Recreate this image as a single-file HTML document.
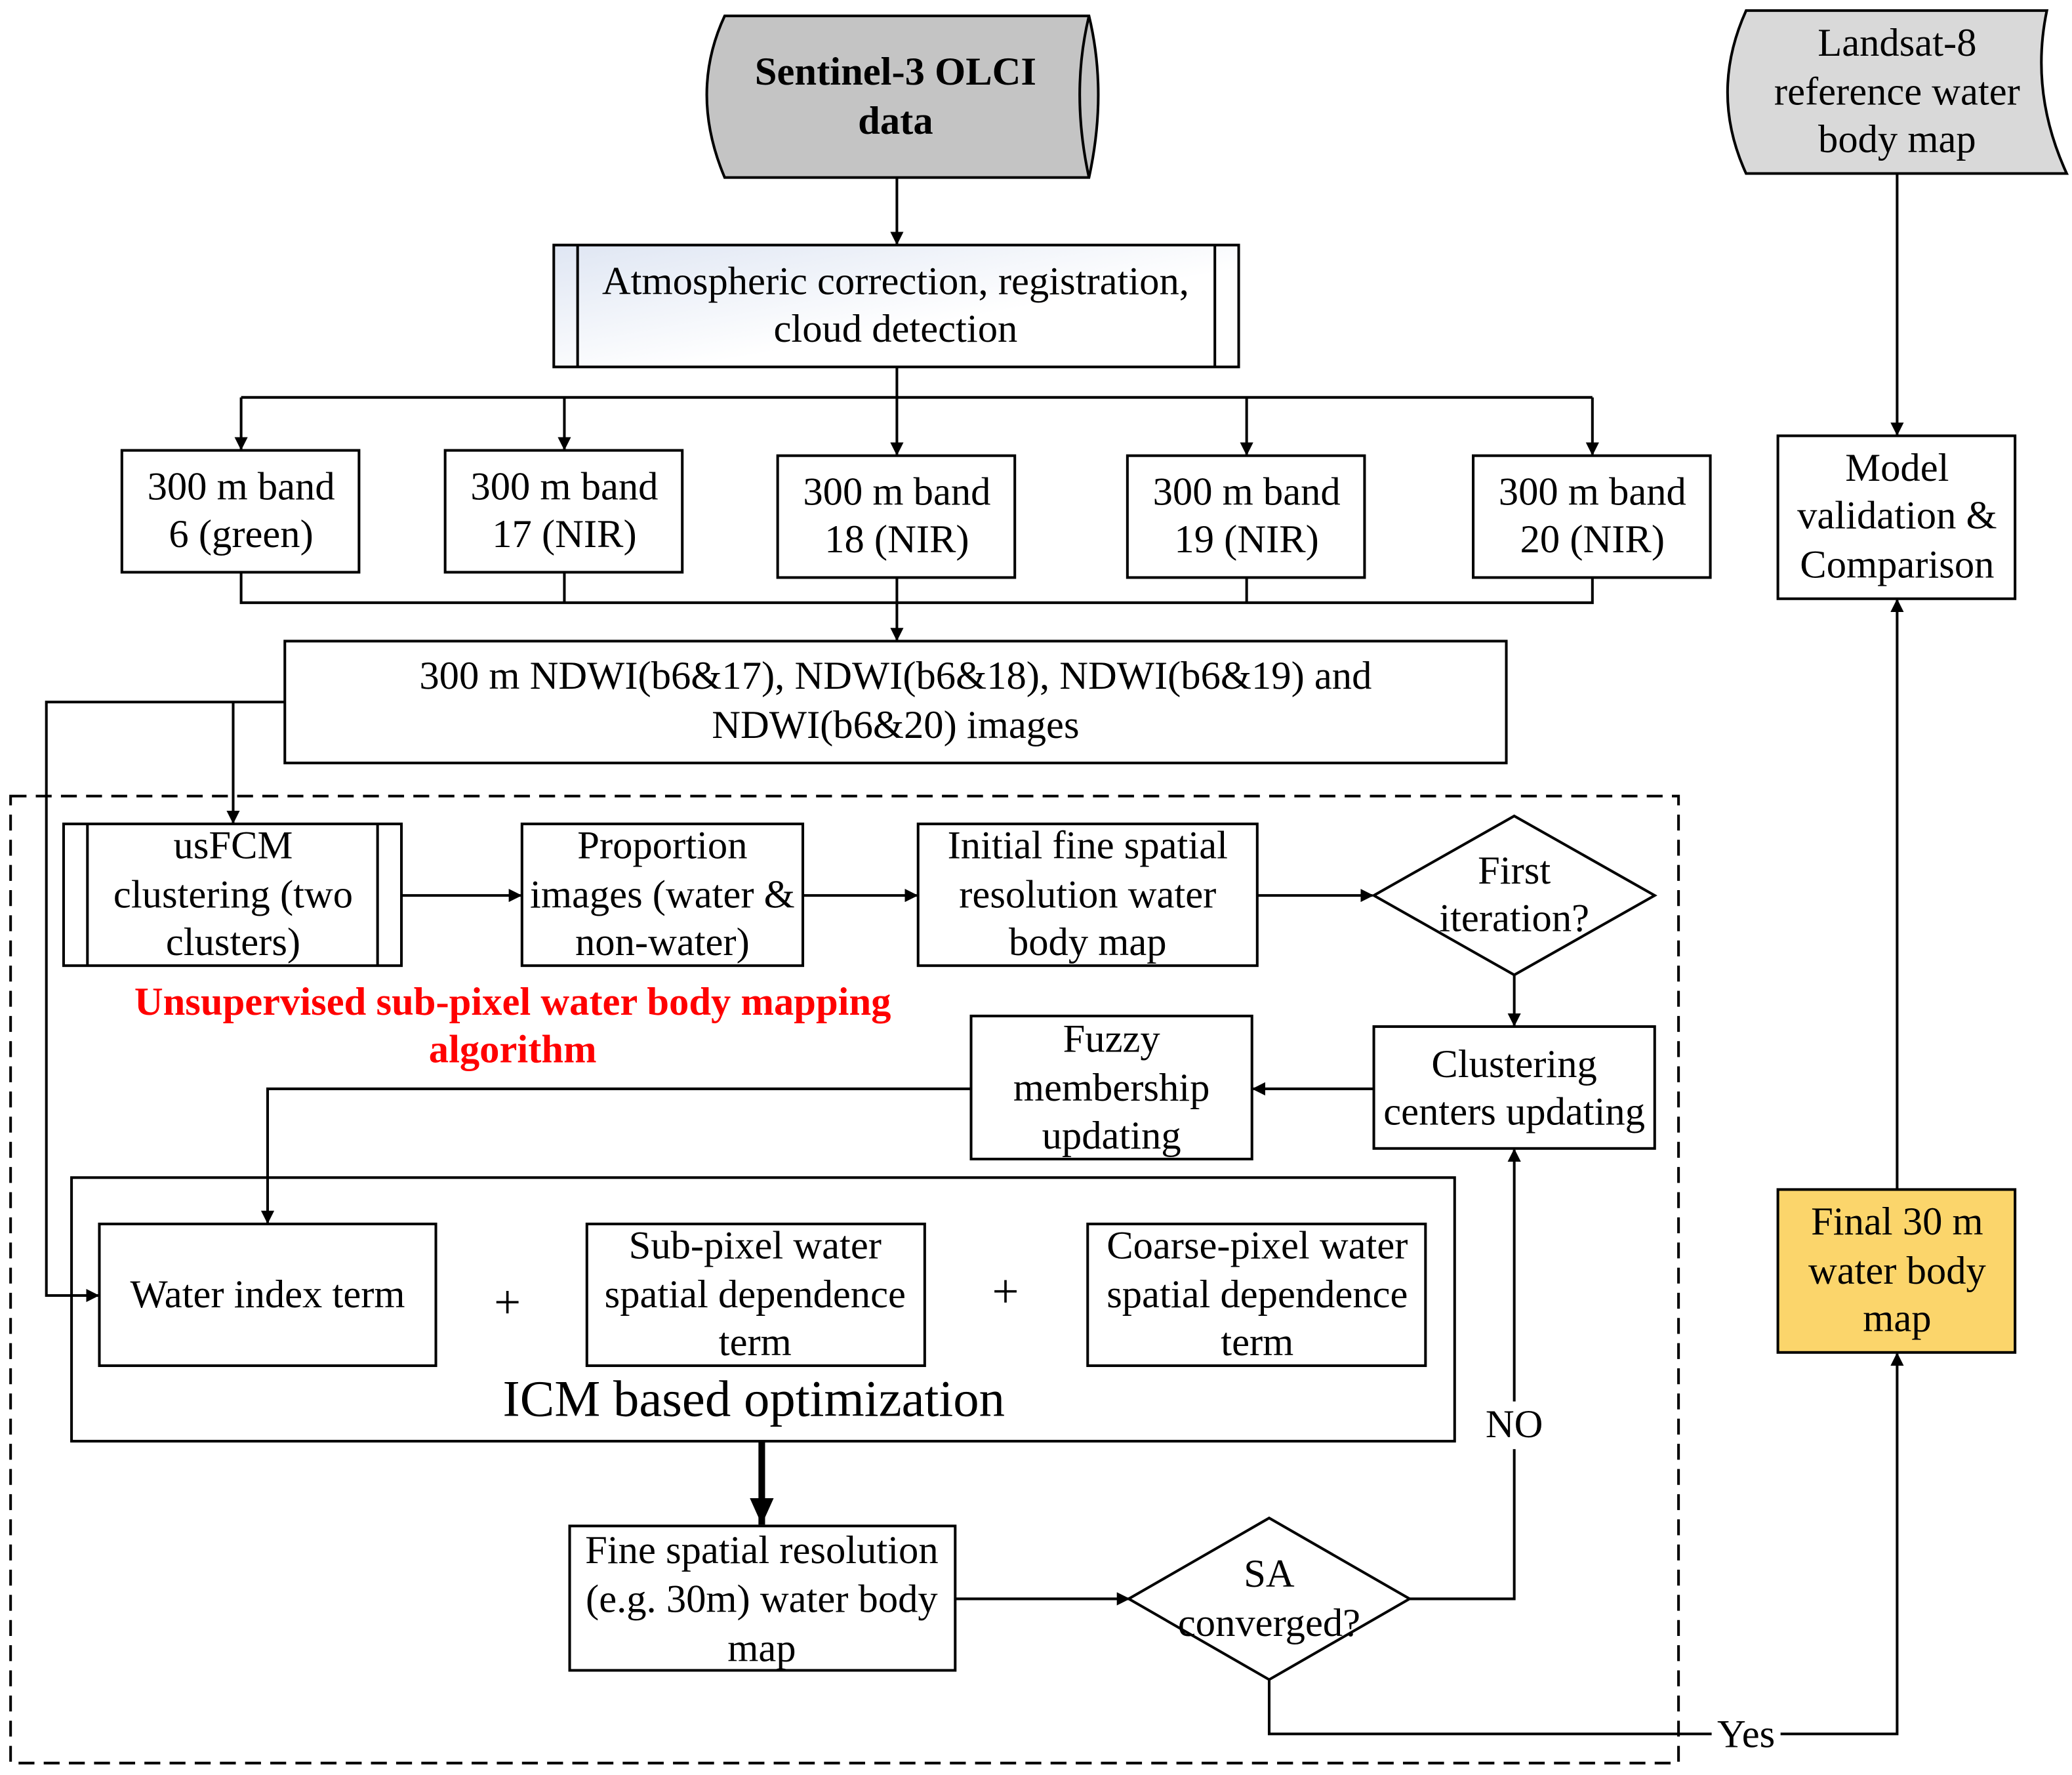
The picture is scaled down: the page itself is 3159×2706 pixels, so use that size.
<!DOCTYPE html>
<html><head><meta charset="utf-8"><style>
html,body{margin:0;padding:0;background:#fff;}
svg{display:block;}
text{font-family:"Liberation Serif",serif;fill:#000;}
</style></head><body>
<svg width="3159" height="2706" viewBox="0 0 1564 1340" preserveAspectRatio="none" xmlns="http://www.w3.org/2000/svg">
<defs>
<marker id="a" markerWidth="10" markerHeight="10" refX="9" refY="5" orient="auto" markerUnits="userSpaceOnUse"><path d="M0,0 L10,5 L0,10 z" fill="#000"/></marker>
<marker id="ab" markerWidth="22" markerHeight="22" refX="20" refY="11" orient="auto" markerUnits="userSpaceOnUse"><path d="M0,2 L20,11 L0,20 z" fill="#000"/></marker>
<linearGradient id="g" x1="0" y1="0" x2="1" y2="1"><stop offset="0" stop-color="#dfe6f3"/><stop offset="0.6" stop-color="#fff"/></linearGradient>
</defs>
<g stroke="#000" stroke-width="2" fill="none">
<path d="M547,12 L822,12 Q836,70 822,134 L547,134 Q520,70 547,12 z" fill="#c4c4c4"/>
<path d="M822,12 Q808,70 822,134"/>
<path d="M1318,8 L1545,8 Q1532,70 1560,131 L1318,131 Q1290,70 1318,8 z" fill="#d9d9d9"/>
<rect x="418" y="185" width="517" height="92" fill="url(#g)"/>
<line x1="436" y1="185" x2="436" y2="277"/><line x1="917" y1="185" x2="917" y2="277"/>
<line x1="677" y1="134" x2="677" y2="184" marker-end="url(#a)"/>
<line x1="677" y1="277" x2="677" y2="343" marker-end="url(#a)"/>
<line x1="182" y1="300" x2="1202" y2="300"/>
<line x1="182" y1="300" x2="182" y2="339" marker-end="url(#a)"/>
<line x1="426" y1="300" x2="426" y2="339" marker-end="url(#a)"/>
<line x1="941" y1="300" x2="941" y2="343" marker-end="url(#a)"/>
<line x1="1202" y1="300" x2="1202" y2="343" marker-end="url(#a)"/>
<rect x="92" y="340" width="179" height="92" fill="#fff"/>
<rect x="336" y="340" width="179" height="92" fill="#fff"/>
<rect x="587" y="344" width="179" height="92" fill="#fff"/>
<rect x="851" y="344" width="179" height="92" fill="#fff"/>
<rect x="1112" y="344" width="179" height="92" fill="#fff"/>
<polyline points="182,432 182,455 1202,455 1202,436"/>
<line x1="426" y1="432" x2="426" y2="455"/><line x1="941" y1="436" x2="941" y2="455"/>
<line x1="677" y1="436" x2="677" y2="483" marker-end="url(#a)"/>
<rect x="215" y="484" width="922" height="92" fill="#fff"/>
<rect x="54" y="889" width="1044" height="199"/>
<polyline points="215,530 35,530 35,978 74,978" marker-end="url(#a)"/>
<line x1="176" y1="530" x2="176" y2="621" marker-end="url(#a)"/>
<rect x="8" y="601" width="1259" height="730" stroke-dasharray="12,7"/>
<rect x="48" y="622" width="255" height="107" fill="#fff"/>
<line x1="66" y1="622" x2="66" y2="729"/><line x1="285" y1="622" x2="285" y2="729"/>
<line x1="303" y1="676" x2="393" y2="676" marker-end="url(#a)"/>
<rect x="394" y="622" width="212" height="107" fill="#fff"/>
<line x1="606" y1="676" x2="692" y2="676" marker-end="url(#a)"/>
<rect x="693" y="622" width="256" height="107" fill="#fff"/>
<line x1="949" y1="676" x2="1036" y2="676" marker-end="url(#a)"/>
<polygon points="1143,616 1249,676 1143,736 1037,676" fill="#fff"/>
<line x1="1143" y1="736" x2="1143" y2="774" marker-end="url(#a)"/>
<rect x="1037" y="775" width="212" height="92" fill="#fff"/>
<line x1="1037" y1="822" x2="946" y2="822" marker-end="url(#a)"/>
<rect x="733" y="767" width="212" height="108" fill="#fff"/>
<polyline points="733,822 202,822 202,923" marker-end="url(#a)"/>
<rect x="75" y="924" width="254" height="107" fill="#fff"/>
<rect x="443" y="924" width="255" height="107" fill="#fff"/>
<rect x="821" y="924" width="255" height="107" fill="#fff"/>
<line x1="575" y1="1088" x2="575" y2="1151" stroke-width="5" marker-end="url(#ab)"/>
<rect x="430" y="1152" width="291" height="109" fill="#fff"/>
<line x1="721" y1="1207" x2="852" y2="1207" marker-end="url(#a)"/>
<polygon points="958,1146 1064,1207 958,1268 852,1207" fill="#fff"/>
<polyline points="1064,1207 1143,1207 1143,868" marker-end="url(#a)"/>
<polyline points="958,1268 958,1309 1432,1309 1432,1022" marker-end="url(#a)"/>
<rect x="1342" y="898" width="179" height="123" fill="#fbd56b"/>
<line x1="1432" y1="898" x2="1432" y2="453" marker-end="url(#a)"/>
<rect x="1342" y="329" width="179" height="123" fill="#fff"/>
<line x1="1432" y1="131" x2="1432" y2="328" marker-end="url(#a)"/>
</g>
<rect x="1116" y="1058" width="54" height="36" fill="#fff"/>
<rect x="1292" y="1295" width="52" height="30" fill="#fff"/>
<g font-size="30" text-anchor="middle">
<text x="676" y="64" font-weight="bold">Sentinel-3 OLCI</text>
<text x="676" y="101" font-weight="bold">data</text>
<text x="1432" y="42">Landsat-8</text><text x="1432" y="79">reference water</text><text x="1432" y="115">body map</text>
<text x="676" y="222">Atmospheric correction, registration,</text><text x="676" y="258">cloud detection</text>
<text x="182" y="377">300 m band</text><text x="182" y="413">6 (green)</text>
<text x="426" y="377">300 m band</text><text x="426" y="413">17 (NIR)</text>
<text x="677" y="381">300 m band</text><text x="677" y="417">18 (NIR)</text>
<text x="941" y="381">300 m band</text><text x="941" y="417">19 (NIR)</text>
<text x="1202" y="381">300 m band</text><text x="1202" y="417">20 (NIR)</text>
<text x="1432" y="363">Model</text><text x="1432" y="399">validation &amp;</text><text x="1432" y="436">Comparison</text>
<text x="676" y="520">300 m NDWI(b6&amp;17), NDWI(b6&amp;18), NDWI(b6&amp;19) and</text>
<text x="676" y="557">NDWI(b6&amp;20)  images</text>
<text x="176" y="648">usFCM</text><text x="176" y="685">clustering (two</text><text x="176" y="721">clusters)</text>
<text x="500" y="648">Proportion</text><text x="500" y="685">images (water &amp;</text><text x="500" y="721">non-water)</text>
<text x="821" y="648">Initial fine spatial</text><text x="821" y="685">resolution water</text><text x="821" y="721">body map</text>
<text x="1143" y="667">First</text><text x="1143" y="703">iteration?</text>
<text x="1143" y="813">Clustering</text><text x="1143" y="849">centers updating</text>
<text x="839" y="794">Fuzzy</text><text x="839" y="831">membership</text><text x="839" y="867">updating</text>
<text x="387" y="766" font-weight="bold" style="fill:#ff0000">Unsupervised sub-pixel water body mapping</text>
<text x="387" y="802" font-weight="bold" style="fill:#ff0000">algorithm</text>
<text x="202" y="987">Water index term</text>
<text x="383" y="995" font-size="36">+</text>
<text x="570" y="950">Sub-pixel water</text><text x="570" y="987">spatial dependence</text><text x="570" y="1023">term</text>
<text x="759" y="987" font-size="36">+</text>
<text x="949" y="950">Coarse-pixel water</text><text x="949" y="987">spatial dependence</text><text x="949" y="1023">term</text>
<text x="569" y="1069" font-size="39">ICM based optimization</text>
<text x="575" y="1180">Fine spatial resolution</text><text x="575" y="1217">(e.g. 30m) water body</text><text x="575" y="1254">map</text>
<text x="958" y="1198">SA</text><text x="958" y="1235">converged?</text>
<text x="1143" y="1085">NO</text>
<text x="1318" y="1319">Yes</text>
<text x="1432" y="932">Final 30 m</text><text x="1432" y="969">water body</text><text x="1432" y="1005">map</text>
</g>
</svg>
</body></html>
